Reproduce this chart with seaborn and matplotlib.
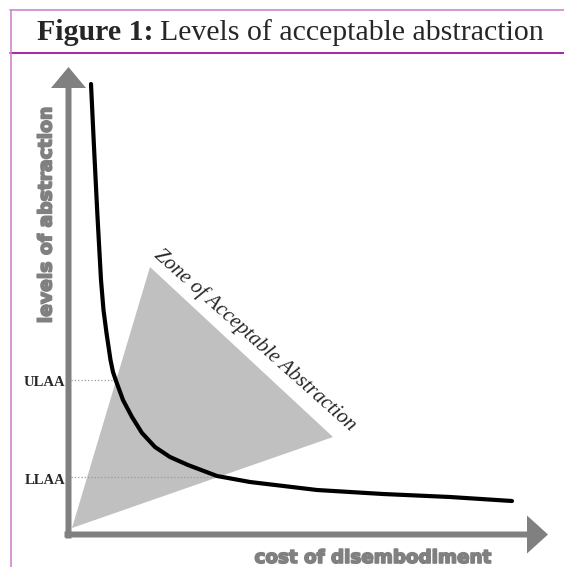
import seaborn as sns
import pandas as pd
import matplotlib.pyplot as plt
import matplotlib.patheffects as pe
from matplotlib.patches import FancyArrow
from matplotlib.lines import Line2D

# curve (units: pixels from the axis origin)
cost = [23, 26, 29.3, 33, 35.5, 38.5, 42.5, 45, 47.7, 55, 64, 74, 87, 102, 120,
        149, 182, 249, 315, 382, 444]
level = [451, 388, 322, 255, 225, 202, 175, 163, 155, 135, 118, 102, 88, 78, 70,
         59, 53, 45, 41, 38, 34]

# zone of acceptable abstraction (triangle corners)
zone_x = [4, 82, 265]
zone_y = [7, 268, 98]

ulaa = 155
llaa = 58
ulaa_x = 48   # where the dotted guide meets the curve
llaa_x = 150

title_bold = 'Figure 1:'
title_rest = 'Levels of acceptable abstraction'
xlabel = 'cost of disembodiment'
ylabel = 'levels of abstraction'
zone_label = 'Zone of Acceptable Abstraction'

sns.set_style('white')
plt.rcParams['font.family'] = ['Liberation Serif', 'DejaVu Serif']

W, H = 564, 567
fig = plt.figure(figsize=(W / 100, H / 100), dpi=100)
ax = fig.add_axes([68 / W, (H - 535) / H, 480 / W, 470 / H])
ax.set_xlim(0, 480)
ax.set_ylim(0, 470)
ax.axis('off')

ax.fill(zone_x, zone_y, color='#c0c0c0', lw=0, zorder=1)

grey = '#808080'
ax.add_patch(FancyArrow(-3.5, 0.5, 483.5, 0, width=6, head_width=38, head_length=21,
                        length_includes_head=True, color=grey, lw=0, clip_on=False, zorder=3))
ax.add_patch(FancyArrow(0.5, -3.5, 0, 471.5, width=6, head_width=35, head_length=21,
                        length_includes_head=True, color=grey, lw=0, clip_on=False, zorder=3))

ax.plot([3, ulaa_x], [ulaa, ulaa], ls=':', lw=0.9, color='#999999', zorder=2)
ax.plot([3, llaa_x], [llaa, llaa], ls=':', lw=0.9, color='#999999', zorder=2)

df = pd.DataFrame({'cost': cost, 'level': level})
sns.lineplot(data=df, x='cost', y='level', color='black', lw=3, sort=False,
             legend=False, ax=ax, zorder=4)
ax.lines[-1].set_solid_joinstyle('round')

ax.text(-3, ulaa - 3, 'ULAA', ha='right', va='center', fontsize=10.5,
        fontweight='bold', clip_on=False)
ax.text(-3, llaa - 3, 'LLAA', ha='right', va='center', fontsize=10.5,
        fontweight='bold', clip_on=False)

ax.text(187, 195, zone_label, rotation=-41.7, rotation_mode='anchor',
        ha='center', va='center', fontsize=15, fontstyle='italic')

heavy = [pe.withStroke(linewidth=1.2, foreground=grey)]
ax.text(305, -23, xlabel, ha='center', va='center', fontsize=13.2,
        fontweight='bold', color=grey, family='DejaVu Sans', clip_on=False,
        path_effects=heavy)
ax.text(-22, 320, ylabel, ha='center', va='center', rotation=90, fontsize=13.5,
        fontweight='bold', color=grey, family='DejaVu Sans', clip_on=False,
        path_effects=heavy)

# title band and frame
fig.text(37 / W, 1 - 33 / H, title_bold, ha='left', va='center', fontsize=21.5, fontweight='bold')
fig.text(160 / W, 1 - 33 / H, title_rest, ha='left', va='center', fontsize=21.5)
fig.add_artist(Line2D([10 / W, 1], [1 - 10 / H, 1 - 10 / H], color='#cc88cc', lw=1.2))
fig.add_artist(Line2D([10 / W, 1], [1 - 53 / H, 1 - 53 / H], color='#990099', lw=1.2))
fig.add_artist(Line2D([10.5 / W, 10.5 / W], [0, 1 - 10 / H], color='#cc88cc', lw=1.2))

plt.savefig('out.png', dpi=100)
